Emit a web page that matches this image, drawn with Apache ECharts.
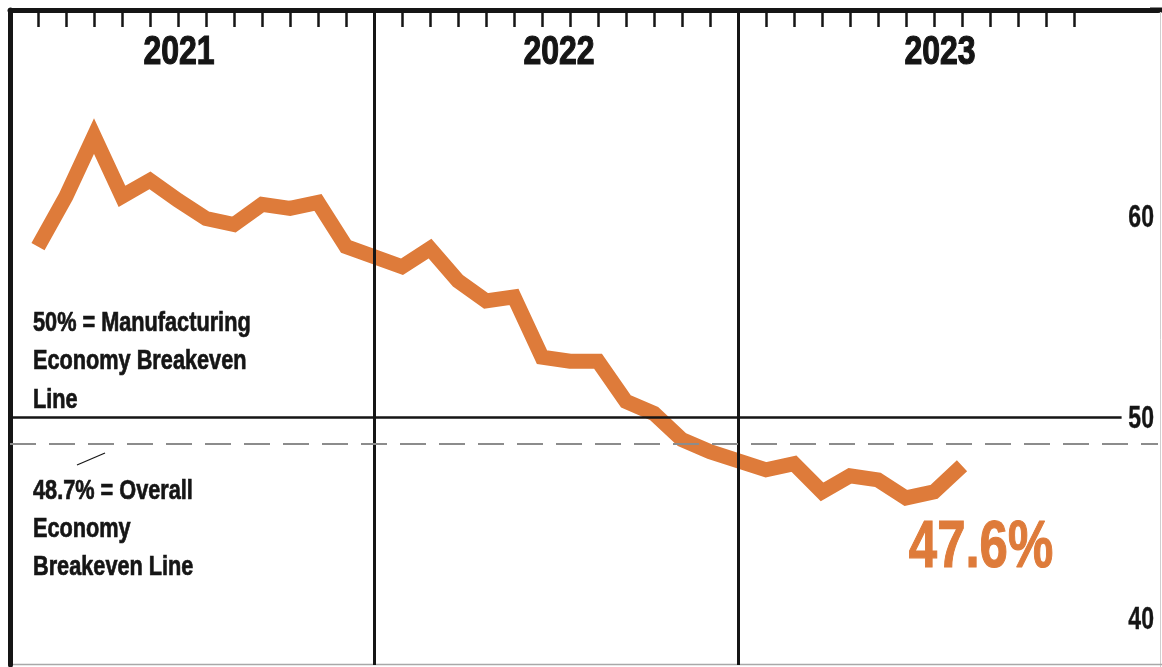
<!DOCTYPE html>
<html>
<head>
<meta charset="utf-8">
<script src="https://cdn.jsdelivr.net/npm/echarts@6/dist/echarts.min.js"></script>
<style>
  html, body { margin: 0; padding: 0; background: #ffffff; }
  #chart { width: 1162px; height: 667px; }
</style>
</head>
<body>
<div id="chart"></div>
<script>
// Monthly PMI readings, one list per calendar year
const years = ['2021', '2022', '2023'];
const pmi2021 = [58.5, 61.0, 64.0, 61.0, 61.8, 60.8, 59.9, 59.6, 60.6, 60.4, 60.7, 58.5];
const pmi2022 = [57.5, 58.4, 56.8, 55.8, 56.0, 53.0, 52.8, 52.8, 50.8, 50.2, 48.9, 48.3];
const pmi2023 = [47.4, 47.7, 46.3, 47.1, 46.9, 46.0, 46.3, 47.6];
const yTickLabels = [40, 50, 60];
const manufacturingBreakeven = 50;
const overallBreakeven = 48.7;
const noteManufacturing = ['50% = Manufacturing', 'Economy Breakeven', 'Line'];
const noteOverall = ['48.7% = Overall', 'Economy', 'Breakeven Line'];

// Layout: every year takes 13 slots (one divider slot + 12 months), 28px each
const SLOTS_PER_YEAR = 13;
const TOTAL_SLOTS = 41;
const SLOT_PX = 28;
const MONTH_SLOTS_END = SLOTS_PER_YEAR * years.length;
const FONT = '"Liberation Sans", Arial, sans-serif';
const ORANGE = '#DE7B3A';
const INK = '#151515';

const yearSeries = [pmi2021, pmi2022, pmi2023];
const lineData = [];
yearSeries.forEach((vals, yi) => {
  vals.forEach((v, m) => lineData.push([yi * SLOTS_PER_YEAR + m + 1, v]));
});
const last = lineData[lineData.length - 1];

const slotNames = [];
for (let s = 0; s <= TOTAL_SLOTS; s++) slotNames.push('s' + s);

const yearDividers = years.slice(1).map((y, i) => ({
  xAxis: (i + 1) * SLOTS_PER_YEAR,
  lineStyle: { color: INK, width: 3, type: 'solid' }
}));

const chart = echarts.init(document.getElementById('chart'), null, { renderer: 'canvas' });

chart.setOption({
  animation: false,
  backgroundColor: '#ffffff',
  grid: {
    left: 10, top: 10,
    width: SLOT_PX * TOTAL_SLOTS, height: 655,
    containLabel: false, outerBoundsMode: 'none'
  },
  xAxis: [
    {
      type: 'category',
      position: 'top',
      data: slotNames,
      boundaryGap: false,
      axisLine: { show: true, lineStyle: { color: INK, width: 5 } },
      axisTick: {
        show: true,
        inside: true,
        length: 17,
        interval: (idx) => idx % SLOTS_PER_YEAR !== 0 && idx < MONTH_SLOTS_END,
        lineStyle: { color: INK, width: 2.5 }
      },
      axisLabel: { show: false },
      splitLine: { show: false }
    },
    { type: 'value', min: 0, max: TOTAL_SLOTS, show: false }
  ],
  yAxis: [
    {
      type: 'value',
      position: 'right',
      min: 37.69,
      max: 70.27,
      axisLine: { show: false },
      axisTick: { show: false },
      axisLabel: { show: false },
      splitLine: { show: false }
    },
    {
      type: 'value',
      position: 'left',
      min: 37.69,
      max: 70.27,
      axisLine: { show: true, lineStyle: { color: INK, width: 5 } },
      axisTick: { show: false },
      axisLabel: { show: false },
      splitLine: { show: false }
    }
  ],
  series: [
    {
      type: 'line',
      xAxisIndex: 1,
      yAxisIndex: 0,
      data: lineData,
      symbol: 'none',
      silent: true,
      z: 2,
      lineStyle: { color: ORANGE, width: 15, join: 'miter', cap: 'butt', miterLimit: 10 },
      markLine: {
        silent: true,
        symbol: ['none', 'none'],
        label: { show: false },
        z: 5,
        data: [
          ...yearDividers,
          [
            { coord: [0, manufacturingBreakeven], lineStyle: { color: INK, width: 2.5, type: 'solid' } },
            { coord: [39.7, manufacturingBreakeven] }
          ],
          [
            { coord: [0, overallBreakeven], lineStyle: { color: '#8c8c8c', width: 2, type: [26, 13] } },
            { coord: [TOTAL_SLOTS, overallBreakeven] }
          ]
        ]
      }
    }
  ]
});

// Condensed text pieces: drawn as graphic text squeezed horizontally,
// with a thin outline in the fill colour to make the lettering heavier
function squeezedText(text, x, y, size, squeeze, align, weight, color) {
  const c = color || INK;
  return {
    type: 'text',
    x: x,
    y: y,
    scaleX: squeeze,
    silent: true,
    z: 10,
    style: {
      text: text,
      fill: c,
      stroke: c,
      lineWidth: weight,
      font: 'bold ' + size + 'px ' + FONT,
      textAlign: align || 'left',
      textVerticalAlign: 'middle'
    }
  };
}

const graphics = [];

// year headings
const yearHeadingX = [179, 559, 940];
years.forEach((y, i) => graphics.push(squeezedText(y, yearHeadingX[i], 53, 40, 0.8, 'center', 1.2)));

// value labels on the right, placed on the y scale
yTickLabels.forEach((v) => {
  const py = chart.convertToPixel({ yAxisIndex: 0 }, v);
  graphics.push(squeezedText(String(v), 1154, py + 2, 32, 0.72, 'right', 0.4));
});

// breakeven notes
noteManufacturing.forEach((t, i) => graphics.push(squeezedText(t, 33, 323 + i * 38.5, 28, 0.775, 'left', 0.7)));
noteOverall.forEach((t, i) => graphics.push(squeezedText(t, 33, 491 + i * 38, 28, 0.775, 'left', 0.7)));

// leader tick toward the dashed line
graphics.push({
  type: 'line',
  silent: true,
  shape: { x1: 77, y1: 465, x2: 105, y2: 453 },
  style: { stroke: INK, lineWidth: 1.2 }
});

// latest reading, placed below the last point of the line
const lastPx = chart.convertToPixel({ seriesIndex: 0 }, last);
graphics.push(squeezedText(last[1].toFixed(1) + '%', lastPx[0] + 19, lastPx[1] + 83, 67, 0.76, 'center', 1.2, ORANGE));

// top border continues to the page edge
graphics.push({
  type: 'rect', silent: true,
  shape: { x: 1150, y: 7.5, width: 12, height: 5 },
  style: { fill: INK }
});

// thin outer edge on the right and bottom
graphics.push({
  type: 'line', silent: true,
  shape: { x1: 1160.5, y1: 12, x2: 1160.5, y2: 667 },
  style: { stroke: '#cfcfcf', lineWidth: 1 }
});
graphics.push({
  type: 'line', silent: true,
  shape: { x1: 10, y1: 664.5, x2: 1162, y2: 664.5 },
  style: { stroke: '#a8a8a8', lineWidth: 1.5 }
});

chart.setOption({ graphic: graphics });
</script>
</body>
</html>
